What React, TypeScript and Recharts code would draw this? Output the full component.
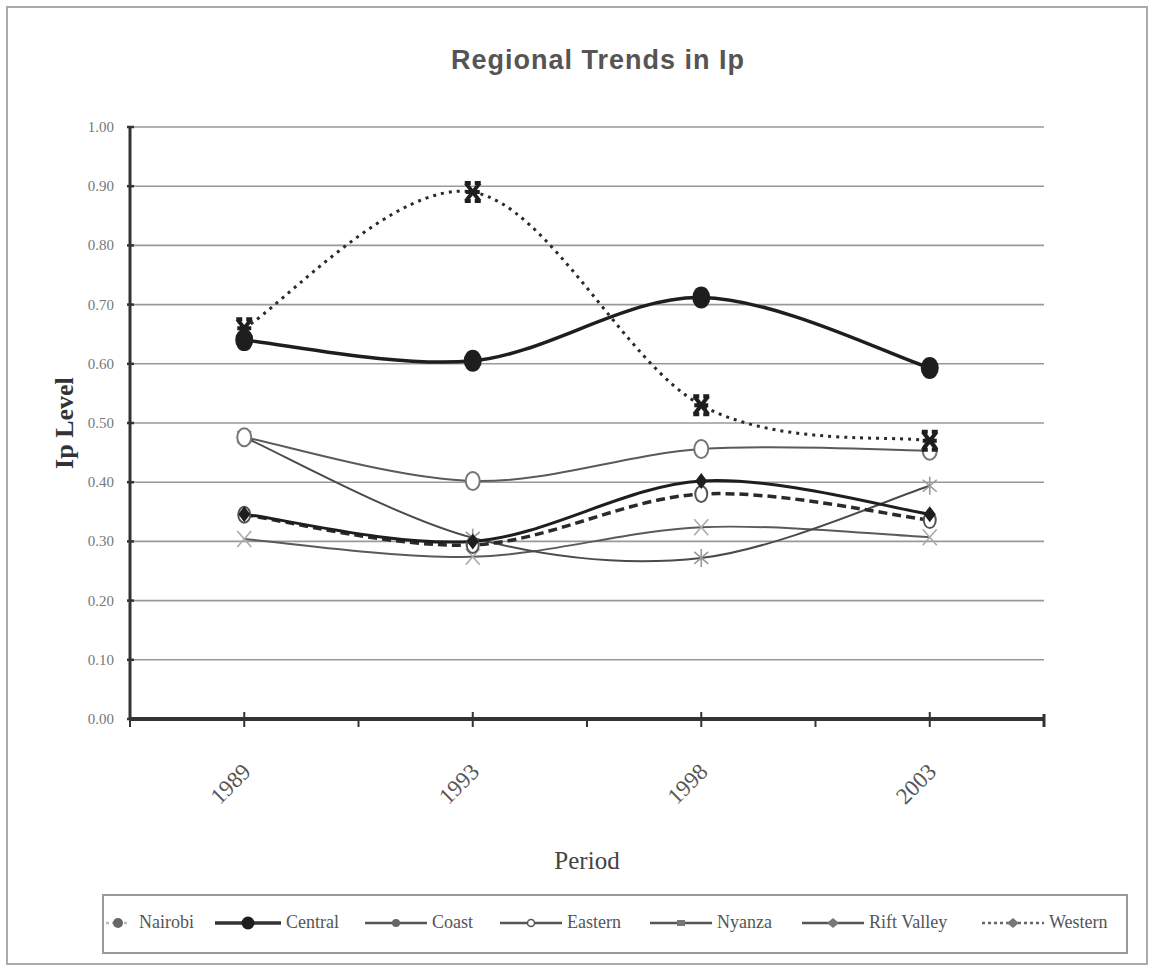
import React from 'react';
import { LineChart, Line, XAxis, YAxis, CartesianGrid } from 'recharts';

// ---------- data ----------
const periods = ['1989', '1993', '1998', '2003'];
const nairobi = [0.66, 0.89, 0.53, 0.47];
const central = [0.64, 0.605, 0.712, 0.593];
const coast = [0.476, 0.306, 0.272, 0.394];
const eastern = [0.476, 0.402, 0.456, 0.453];
const nyanza = [0.304, 0.274, 0.324, 0.307];
const riftValley = [0.346, 0.3, 0.402, 0.346];
const western = [0.345, 0.294, 0.38, 0.336];
const yTicks = [0, 0.1, 0.2, 0.3, 0.4, 0.5, 0.6, 0.7, 0.8, 0.9, 1.0];
const seriesNames = ['Nairobi', 'Central', 'Coast', 'Eastern', 'Nyanza', 'Rift Valley', 'Western'];
const seriesValues = [nairobi, central, coast, eastern, nyanza, riftValley, western];

const data = periods.map((p, i) => {
  const row: any = { period: p };
  seriesNames.forEach((n, k) => (row[n] = seriesValues[k][i]));
  return row;
});

// ---------- Excel-like smooth curve (Catmull-Rom) ----------
function excelCurve(context: any) {
  let pts: number[][] = [];
  return {
    areaStart() {},
    areaEnd() {},
    lineStart() {
      pts = [];
    },
    point(x: number, y: number) {
      pts.push([+x, +y]);
    },
    lineEnd() {
      if (!pts.length) return;
      context.moveTo(pts[0][0], pts[0][1]);
      for (let i = 0; i < pts.length - 1; i++) {
        const p0 = pts[i - 1] || pts[i];
        const p1 = pts[i];
        const p2 = pts[i + 1];
        const p3 = pts[i + 2] || p2;
        context.bezierCurveTo(
          p1[0] + (p2[0] - p0[0]) / 6,
          p1[1] + (p2[1] - p0[1]) / 6,
          p2[0] - (p3[0] - p1[0]) / 6,
          p2[1] - (p3[1] - p1[1]) / 6,
          p2[0],
          p2[1]
        );
      }
    },
  };
}

// ---------- markers ----------
type MarkerFn = (cx: number, cy: number) => React.ReactNode;
const markers: Record<string, MarkerFn> = {
  bigCircle: (cx, cy) => <ellipse cx={cx} cy={cy} rx={9} ry={11} fill="#1e1e1e" />,
  hourglass: (cx, cy) => (
    <path
      d={`M${cx - 7},${cy - 9} L${cx + 7},${cy + 9} M${cx + 7},${cy - 9} L${cx - 7},${cy + 9} M${cx - 8},${cy - 9} L${cx - 2},${cy - 9} M${cx + 2},${cy - 9} L${cx + 8},${cy - 9} M${cx - 8},${cy + 9} L${cx - 2},${cy + 9} M${cx + 2},${cy + 9} L${cx + 8},${cy + 9} M${cx - 7},${cy} L${cx + 7},${cy}`}
      stroke="#1e1e1e"
      strokeWidth={4}
      fill="none"
    />
  ),
  openCircle: (cx, cy) => <ellipse cx={cx} cy={cy} rx={7} ry={9} fill="#fff" stroke="#777" strokeWidth={2} />,
  smallOpenCircle: (cx, cy) => <ellipse cx={cx} cy={cy} rx={6} ry={8} fill="#fff" stroke="#555" strokeWidth={2} />,
  diamond: (cx, cy) => <path d={`M${cx},${cy - 8} L${cx + 6},${cy} L${cx},${cy + 8} L${cx - 6},${cy} Z`} fill="#1e1e1e" />,
  asterisk: (cx, cy) => (
    <path
      d={`M${cx},${cy - 9} L${cx},${cy + 9} M${cx - 7},${cy - 6} L${cx + 7},${cy + 6} M${cx + 7},${cy - 6} L${cx - 7},${cy + 6}`}
      stroke="#999"
      strokeWidth={1.6}
      fill="none"
    />
  ),
  cross: (cx, cy) => (
    <path
      d={`M${cx - 7},${cy - 8} L${cx + 7},${cy + 8} M${cx + 7},${cy - 8} L${cx - 7},${cy + 8}`}
      stroke="#aaa"
      strokeWidth={1.6}
      fill="none"
    />
  ),
  // legend-only markers
  lgDot: (cx, cy) => <circle cx={cx} cy={cy} r={5} fill="#666" />,
  lgBigDot: (cx, cy) => <circle cx={cx} cy={cy} r={6.5} fill="#1e1e1e" />,
  lgSmallDot: (cx, cy) => <circle cx={cx} cy={cy} r={4} fill="#666" />,
  lgOpen: (cx, cy) => <circle cx={cx} cy={cy} r={3.5} fill="#fff" stroke="#555" strokeWidth={1.5} />,
  lgSquare: (cx, cy) => <rect x={cx - 4} y={cy - 3} width={8} height={6} fill="#777" />,
  lgDiamond: (cx, cy) => <path d={`M${cx},${cy - 5} L${cx + 6},${cy} L${cx},${cy + 5} L${cx - 6},${cy} Z`} fill="#777" />,
};

// ---------- series styles ----------
const styles: Record<string, any> = {
  Nairobi: { stroke: '#2a2a2a', width: 3, dash: '3 5', marker: 'hourglass', lg: 'lgDot', lgStroke: '#bbb', lgDash: '3 3', lgWidth: 24 },
  Central: { stroke: '#1e1e1e', width: 3.5, dash: undefined, marker: 'bigCircle', lg: 'lgBigDot', lgStroke: '#333', lgDash: undefined, lgWidth: 66 },
  Coast: { stroke: '#4a4a4a', width: 2, dash: undefined, marker: 'asterisk', lg: 'lgSmallDot', lgStroke: '#555', lgDash: undefined, lgWidth: 62 },
  Eastern: { stroke: '#5a5a5a', width: 2, dash: undefined, marker: 'openCircle', lg: 'lgOpen', lgStroke: '#555', lgDash: undefined, lgWidth: 62 },
  Nyanza: { stroke: '#5a5a5a', width: 2, dash: undefined, marker: 'cross', lg: 'lgSquare', lgStroke: '#555', lgDash: undefined, lgWidth: 62 },
  'Rift Valley': { stroke: '#1e1e1e', width: 3, dash: undefined, marker: 'diamond', lg: 'lgDiamond', lgStroke: '#555', lgDash: undefined, lgWidth: 62 },
  Western: { stroke: '#2a2a2a', width: 3.5, dash: '9 5', marker: 'smallOpenCircle', lg: 'lgDiamond', lgStroke: '#666', lgDash: '3 3', lgWidth: 62 },
};
const drawOrder = ['Nyanza', 'Coast', 'Eastern', 'Western', 'Rift Valley', 'Nairobi', 'Central'];
const legendLeft: Record<string, number> = {
  Nairobi: 104,
  Central: 213,
  Coast: 363,
  Eastern: 498,
  Nyanza: 648,
  'Rift Valley': 800,
  Western: 980,
};

const W = 1138;
const H = 955;
const HALF_BAND = 114.25;

const XTick = (props: any) => {
  const { x, y, payload, index, visibleTicksCount } = props;
  const last = index === (visibleTicksCount ?? periods.length) - 1;
  return (
    <g>
      <line x1={x} x2={x} y1={y - 7} y2={y + 8} stroke="#333" strokeWidth={2} />
      <line x1={x - HALF_BAND} x2={x - HALF_BAND} y1={y} y2={y + 8} stroke="#333" strokeWidth={2} />
      {last && <line x1={x + HALF_BAND} x2={x + HALF_BAND} y1={y - 5} y2={y + 8} stroke="#333" strokeWidth={3} />}
      <text
        x={x + 8}
        y={y + 54}
        textAnchor="end"
        transform={`rotate(-45 ${x + 8} ${y + 54})`}
        fontFamily="'Liberation Serif', serif"
        fontSize={23}
        fill="#555"
      >
        {payload.value}
      </text>
    </g>
  );
};

const YTick = (props: any) => {
  const { x, y, payload } = props;
  return (
    <g>
      <line x1={x - 3} x2={x + 4} y1={y} y2={y} stroke="#333" strokeWidth={2.5} />
      <text x={x - 16} y={y + 5} textAnchor="end" fontFamily="'Liberation Serif', serif" fontSize={15} fill="#777">
        {Number(payload.value).toFixed(2)}
      </text>
    </g>
  );
};

export default function App() {
  return (
    <div
      style={{
        position: 'absolute',
        left: 6,
        top: 6,
        width: W,
        height: H,
        border: '2px solid #aaa',
        background: '#fff',
      }}
    >
      <div
        style={{
          position: 'absolute',
          left: 0,
          width: 1180,
          top: 37,
          textAlign: 'center',
          fontFamily: "'Liberation Sans', Arial, sans-serif",
          fontWeight: 'bold',
          fontSize: 27,
          letterSpacing: 1,
          color: '#555',
        }}
      >
        Regional Trends in Ip
      </div>
      <LineChart width={W} height={H} data={data} margin={{ top: 119, right: 102, left: 62, bottom: 84 }}>
        <CartesianGrid horizontal vertical={false} stroke="#999" strokeWidth={1.6} />
        <XAxis
          dataKey="period"
          padding={{ left: HALF_BAND, right: HALF_BAND }}
          axisLine={{ stroke: '#333', strokeWidth: 4 }}
          tickLine={false}
          tickSize={0}
          tickMargin={0}
          interval={0}
          height={160}
          tick={<XTick />}
          label={{
            value: 'Period',
            position: 'insideBottom',
            offset: 10,
            fontFamily: "'Liberation Serif', serif",
            fontSize: 25,
            fill: '#444',
          }}
        />
        <YAxis
          domain={[0, 1]}
          ticks={yTicks}
          width={60}
          axisLine={{ stroke: '#333', strokeWidth: 3 }}
          tickLine={false}
          tickSize={0}
          tickMargin={0}
          interval={0}
          tick={<YTick />}
          label={{
            value: 'Ip Level',
            angle: -90,
            position: 'insideLeft',
            offset: -6,
            fontFamily: "'Liberation Serif', serif",
            fontWeight: 'bold',
            fontSize: 26,
            fill: '#333',
            style: { textAnchor: 'middle' },
          }}
        />
        {drawOrder.map((name) => {
          const s = styles[name];
          const m = markers[s.marker];
          return (
            <Line
              key={name}
              dataKey={name}
              type={excelCurve as any}
              stroke={s.stroke}
              strokeWidth={s.width}
              strokeDasharray={s.dash}
              isAnimationActive={false}
              dot={(p: any) => <g key={`${name}-${p.index}`}>{m(p.cx, p.cy)}</g>}
              activeDot={false}
            />
          );
        })}
      </LineChart>
      <div
        style={{
          position: 'absolute',
          left: 94,
          top: 886,
          width: 1022,
          height: 56,
          border: '2px solid #999',
          fontFamily: "'Liberation Serif', serif",
          fontSize: 18,
          color: '#555',
        }}
      >
        {seriesNames.map((name) => {
          const s = styles[name];
          const w = s.lgWidth;
          return (
            <div
              key={name}
              style={{
                position: 'absolute',
                left: legendLeft[name] - 102,
                top: 16,
                display: 'flex',
                alignItems: 'center',
                whiteSpace: 'nowrap',
              }}
            >
              <svg width={w} height={16} style={{ marginRight: 5 }}>
                <line x1={0} x2={w} y1={8} y2={8} stroke={s.lgStroke} strokeWidth={name === 'Central' ? 3.5 : 2.5} strokeDasharray={s.lgDash} />
                {markers[s.lg](w / 2, 8)}
              </svg>
              <span style={{ marginLeft: name === 'Nairobi' ? 4 : 0 }}>{name}</span>
            </div>
          );
        })}
      </div>
    </div>
  );
}
